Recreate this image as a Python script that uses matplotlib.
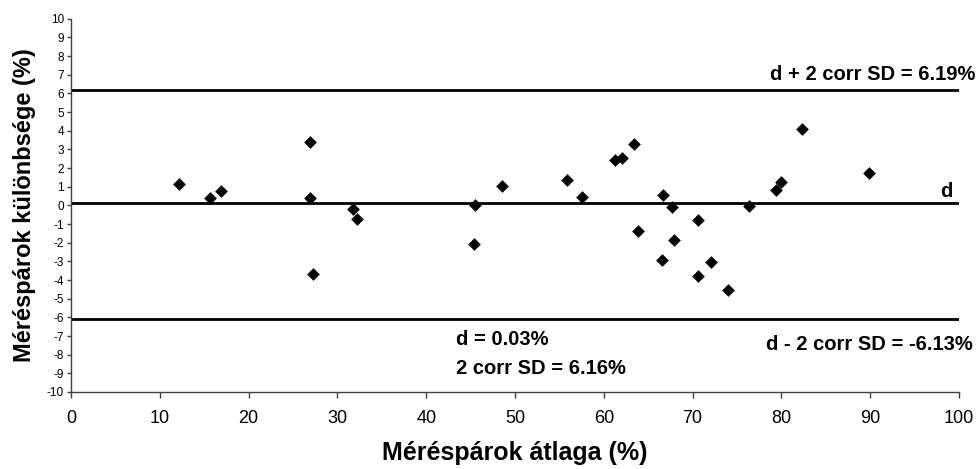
import matplotlib
matplotlib.use('Agg')
import matplotlib.pyplot as plt

plt.rcParams['font.family'] = ['Liberation Sans', 'DejaVu Sans']
plt.rcParams['axes.unicode_minus'] = False

# Bland-Altman data
mean_vals = [12.2, 15.7, 16.9, 26.9, 26.9, 27.3, 31.8, 32.2,
             45.5, 45.4, 48.5, 55.8, 57.5, 61.3, 62.1, 63.4, 63.8,
             66.7, 67.7, 67.9, 66.6, 70.6, 70.6, 72.1, 74.0, 76.3,
             79.4, 79.9, 82.3, 89.9]
diff_vals = [1.14, 0.39, 0.77, 3.38, 0.39, -3.65, -0.18, -0.75,
             0.02, -2.06, 1.03, 1.34, 0.46, 2.43, 2.52, 3.29, -1.39,
             0.57, -0.09, -1.86, -2.9, -0.8, -3.8, -3.05, -4.55, -0.05,
             0.8, 1.28, 4.08, 1.75]

d_line = 0.15
upper = 6.19
lower = -6.1

x_ticks = list(range(0, 101, 10))
y_ticks = list(range(-10, 11, 1))

fig = plt.figure(figsize=(9.77, 4.69), dpi=100)
ax = fig.add_axes([0.0727, 0.1642, 0.9089, 0.7957])

for yv in [upper, d_line, lower]:
    ax.axhline(yv, color='black', lw=2, zorder=2)

ax.scatter(mean_vals, diff_vals, marker='D', s=42, color='black', zorder=3,
           linewidths=0)

ax.set_xlim(0, 100)
ax.set_ylim(-10, 10)
ax.set_xticks(x_ticks)
ax.set_yticks(y_ticks)

for s in ['top', 'right']:
    ax.spines[s].set_visible(False)
for s in ['left', 'bottom']:
    ax.spines[s].set_color('#404040')
    ax.spines[s].set_linewidth(1)

ax.tick_params(axis='y', direction='out', length=3, width=1, color='#404040',
               labelsize=8.5, pad=2)
ax.tick_params(axis='x', direction='out', length=4, width=1, color='#404040',
               labelsize=13, pad=9)

ax.set_xlabel('Méréspárok átlaga (%)', fontsize=18, fontweight='bold', labelpad=10)
ax.set_ylabel('Méréspárok különbsége (%)', fontsize=17, fontweight='bold', labelpad=8)

bold = dict(fontsize=14.5, fontweight='bold', clip_on=False)
ax.text(101.8, 6.72, 'd + 2 corr SD = 6.19%', ha='right', va='baseline', **bold)
ax.text(99.3, 0.47, 'd', ha='right', va='baseline', **bold)
ax.text(101.5, -7.76, 'd - 2 corr SD = -6.13%', ha='right', va='baseline', **bold)
ax.text(43.4, -7.49, 'd = 0.03%', ha='left', va='baseline', **bold)
ax.text(43.4, -9.05, '2 corr SD = 6.16%', ha='left', va='baseline', **bold)

fig.savefig('out.png', dpi=100)
